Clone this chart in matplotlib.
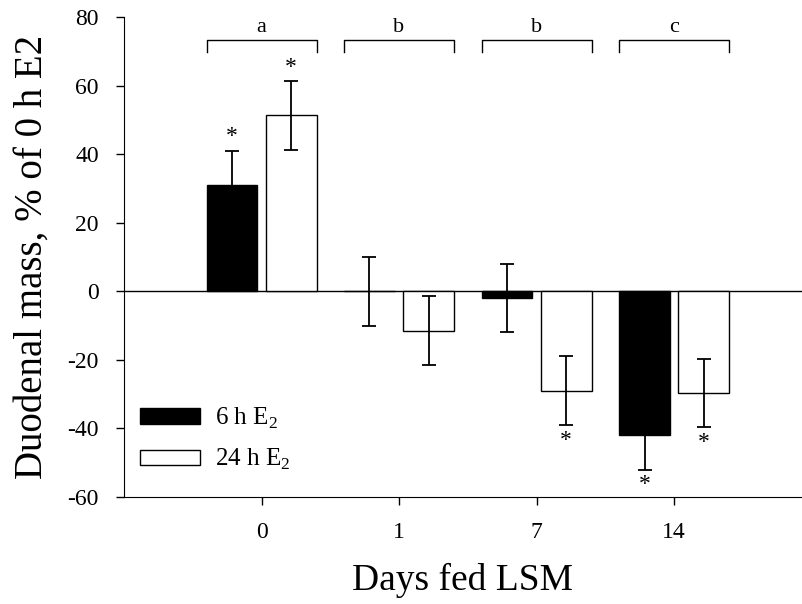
import numpy as np
import matplotlib.pyplot as plt

plt.rcParams['font.family'] = ['Liberation Serif', 'DejaVu Serif']
plt.rcParams['mathtext.fontset'] = 'custom'
plt.rcParams['mathtext.rm'] = 'Liberation Serif'
plt.rcParams['axes.unicode_minus'] = False

# datos
dias = ['0', '1', '7', '14']
media_6h = [31, 0, -2, -42]
err_6h = [10, 10, 10, 10]
media_24h = [51.3, -11.5, -29, -29.7]
err_24h = [10, 10, 10, 10]
sig_6h = [True, False, False, True]
sig_24h = [True, False, True, True]
grupos = ['a', 'b', 'b', 'c']

fig = plt.figure(figsize=(8.02, 6.04), dpi=100)
ax = fig.add_axes([0.1546, 0.1772, 0.8454, 0.7947])

x = np.arange(len(dias))
w = 0.37
off = 0.215

ax.axhline(0, color='black', lw=1, zorder=1)

ax.bar(x - off, media_6h, w, color='black', edgecolor='black', lw=1, zorder=2, label=r'6 h E$_2$')
ax.bar(x + off, media_24h, w, color='white', edgecolor='black', lw=1, zorder=2, label=r'24 h E$_2$')
ax.errorbar(x - off, media_6h, yerr=err_6h, fmt='none', ecolor='black', elinewidth=1.3, capsize=5, capthick=1.3, zorder=3)
ax.errorbar(x + off, media_24h, yerr=err_24h, fmt='none', ecolor='black', elinewidth=1.3, capsize=5, capthick=1.3, zorder=3)

# asteriscos
for xs, m, e, s in [(x - off, media_6h, err_6h, sig_6h), (x + off, media_24h, err_24h, sig_24h)]:
    for i in range(len(dias)):
        if not s[i]:
            continue
        if m[i] >= 0:
            ax.text(xs[i], m[i] + e[i] + 1, '*', ha='center', va='bottom', fontsize=17)
        else:
            ax.text(xs[i], m[i] - e[i] - 4.5, '*', ha='center', va='center', fontsize=17)

# corchetes
for i in range(len(dias)):
    x0 = x[i] - off - w / 2
    x1 = x[i] + off + w / 2
    ax.plot([x0, x0, x1, x1], [69.8, 73.3, 73.3, 69.8], color='black', lw=1, clip_on=False)
    ax.text(x[i], 74.2, grupos[i], ha='center', va='bottom', fontsize=16)

ax.set_xlim(-1.0, 3.93)
ax.set_ylim(-60, 80)
ax.set_yticks(np.arange(-60, 81, 20))
ax.set_xticks(x)
ax.set_xticklabels(dias)
ax.tick_params(labelsize=17, direction='out', length=6, width=1)
ax.tick_params(axis='y', pad=12)
ax.tick_params(axis='x', pad=12)
ax.spines['top'].set_visible(False)
ax.spines['right'].set_visible(False)

ax.set_ylabel('Duodenal mass, % of 0 h E2', fontsize=28, labelpad=12)
ax.set_xlabel('Days fed LSM', fontsize=27, labelpad=14)

ax.legend(loc='upper left', bbox_to_anchor=(0.0236, 0.19), frameon=False, fontsize=18,
          borderpad=0, borderaxespad=0, handlelength=2.4, handleheight=0.58,
          handletextpad=0.6, labelspacing=0.65)

plt.savefig('out.png', dpi=100)
